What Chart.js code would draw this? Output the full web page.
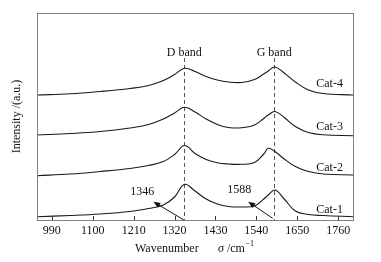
<!DOCTYPE html>
<html>
<head>
<meta charset="utf-8">
<script src="https://cdn.jsdelivr.net/npm/chart.js@4.4.0/dist/chart.umd.min.js"></script>
<style>
  html, body { margin: 0; padding: 0; background: #fff; }
  #wrap { width: 381px; height: 262px; }
</style>
</head>
<body>
<div id="wrap"><canvas id="raman"></canvas></div>
<script>
// Raman spectra (intensity in arbitrary units)
const wavenumbers = [950, 1040, 1120, 1200, 1250, 1290, 1320, 1347, 1375, 1405, 1435, 1465, 1500, 1535, 1560, 1572, 1590, 1615, 1645, 1680, 1720, 1800];
const cat1 = [3.3, 4.5, 6, 8.5, 11.5, 15, 23, 35.7, 29, 21, 16, 13.5, 13, 14, 21, 25, 30, 21, 9, 5.5, 4.5, 3.3];
const cat2 = [44.3, 46, 48.5, 51.5, 54.5, 58.5, 65.5, 74.5, 66.5, 60.5, 57.2, 56, 55.7, 57.5, 66, 71.7, 68.5, 61, 53.5, 48.5, 46, 45];
const cat3 = [85, 86.5, 88.5, 92, 95.5, 101, 107, 112.7, 108, 101, 95.5, 92.5, 92.2, 95, 101.5, 105, 108.5, 102.5, 93.5, 87.5, 85.2, 84.3];
const cat4 = [125, 126.2, 128.5, 131.5, 134.5, 139.5, 145.5, 151.7, 148.5, 143.5, 140, 138, 137.5, 140.5, 146, 149, 153, 147, 138, 130, 126.5, 125];
const seriesNames = ['Cat-1', 'Cat-2', 'Cat-3', 'Cat-4'];
const tickValues = [990, 1100, 1210, 1320, 1430, 1540, 1650, 1760];
const bandPeaks = [1346, 1588];
const bandNames = ['D band', 'G band'];

const FONT = '12px "Liberation Serif", "Times New Roman", serif';

const toPoints = arr => wavenumbers.map((w, i) => ({ x: w, y: arr[i] }));

function arrow(ctx, x1, y1, x2, y2) {
  // line from (x1,y1) to head at (x2,y2)
  const ang = Math.atan2(y2 - y1, x2 - x1);
  const len = 7, half = 2.8;
  ctx.beginPath();
  ctx.moveTo(x1, y1);
  ctx.lineTo(x2 - Math.cos(ang) * len * 0.8, y2 - Math.sin(ang) * len * 0.8);
  ctx.stroke();
  ctx.beginPath();
  ctx.moveTo(x2, y2);
  ctx.lineTo(x2 - Math.cos(ang) * len + Math.sin(ang) * half, y2 - Math.sin(ang) * len - Math.cos(ang) * half);
  ctx.lineTo(x2 - Math.cos(ang) * len - Math.sin(ang) * half, y2 - Math.sin(ang) * len + Math.cos(ang) * half);
  ctx.closePath();
  ctx.fill();
}

const decor = {
  id: 'decor',
  beforeDatasetsDraw(chart) {
    const { ctx, chartArea: a, scales: { x, y } } = chart;
    ctx.save();
    ctx.strokeStyle = '#555';
    ctx.lineWidth = 1;
    ctx.setLineDash([4, 3]);
    bandPeaks.forEach(p => {
      const px = Math.round(x.getPixelForValue(p)) + 0.5;
      ctx.beginPath();
      ctx.moveTo(px, y.getPixelForValue(162));
      ctx.lineTo(px, a.bottom);
      ctx.stroke();
    });
    ctx.restore();
  },
  afterDatasetsDraw(chart) {
    const { ctx, chartArea: a, scales: { x, y } } = chart;
    ctx.save();
    // frame
    ctx.strokeStyle = '#808080';
    ctx.lineWidth = 1;
    ctx.strokeRect(Math.round(a.left) + 0.5, Math.round(a.top) + 0.5, Math.round(a.right - a.left), Math.round(a.bottom - a.top));
    // inward ticks
    ctx.strokeStyle = '#333';
    tickValues.forEach(v => {
      const px = Math.round(x.getPixelForValue(v)) + 0.5;
      ctx.beginPath();
      ctx.moveTo(px, a.bottom);
      ctx.lineTo(px, a.bottom - 4);
      ctx.stroke();
    });

    ctx.fillStyle = '#111';
    ctx.font = FONT;
    ctx.textAlign = 'center';
    ctx.textBaseline = 'middle';
    // band labels
    bandNames.forEach((t, i) => ctx.fillText(t, x.getPixelForValue(bandPeaks[i]), y.getPixelForValue(167.3)));
    // series labels
    const labelY = [10, 51.7, 93.3, 135.7];
    seriesNames.forEach((t, i) => ctx.fillText(t, x.getPixelForValue(1737), y.getPixelForValue(labelY[i])));
    // peak annotations
    ctx.fillText(String(bandPeaks[0]), x.getPixelForValue(1233), y.getPixelForValue(27.7));
    ctx.fillText(String(bandPeaks[1]), x.getPixelForValue(1494), y.getPixelForValue(30));
    ctx.strokeStyle = '#111';
    ctx.lineWidth = 1;
    arrow(ctx, x.getPixelForValue(1345), y.getPixelForValue(0), x.getPixelForValue(1263), y.getPixelForValue(18.3));
    arrow(ctx, x.getPixelForValue(1584), y.getPixelForValue(1.7), x.getPixelForValue(1518), y.getPixelForValue(18.3));

    // x title: Wavenumber   σ /cm⁻¹
    ctx.textAlign = 'left';
    const ty = 249;
    let tx = 135;
    ctx.fillText('Wavenumber', tx, ty);
    tx = 218;
    ctx.font = 'italic ' + FONT;
    ctx.fillText('σ', tx, ty);
    tx += ctx.measureText('σ').width;
    ctx.font = FONT;
    ctx.fillText(' /cm', tx, ty);
    tx += ctx.measureText(' /cm').width + 0.5;
    ctx.font = '8px "Liberation Serif", serif';
    ctx.fillText('−1', tx, ty - 5);
    ctx.restore();
  }
};

new Chart(document.getElementById('raman'), {
  type: 'line',
  data: {
    datasets: [cat1, cat2, cat3, cat4].map((arr, i) => ({
      label: seriesNames[i],
      data: toPoints(arr),
      borderColor: '#1a1a1a',
      borderWidth: 1.1,
      pointRadius: 0,
      fill: false,
      tension: 0.4
    }))
  },
  options: {
    responsive: true,
    maintainAspectRatio: false,
    animation: false,
    layout: { padding: { top: 13, right: 28, left: 0, bottom: 0 } },
    plugins: { legend: { display: false }, tooltip: { enabled: false } },
    scales: {
      x: {
        type: 'linear',
        min: 950,
        max: 1800,
        afterBuildTicks: s => { s.ticks = tickValues.map(v => ({ value: v })); },
        afterFit: s => { s.height = 42; },
        grid: { display: false, drawTicks: false, tickLength: 0 },
        border: { display: false },
        ticks: {
          color: '#111',
          font: { family: '"Liberation Serif"', size: 12 },
          padding: 4,
          maxRotation: 0,
          callback: v => String(v)
        }
      },
      y: {
        min: 0,
        max: 207,
        afterFit: s => { s.width = 37; },
        grid: { display: false },
        border: { display: false },
        ticks: { display: false },
        title: { display: true, text: 'Intensity /(a.u.)', color: '#111', font: { family: '"Liberation Serif"', size: 12 }, padding: { top: 10, bottom: 0 } }
      }
    }
  },
  plugins: [decor]
});
</script>
</body>
</html>
